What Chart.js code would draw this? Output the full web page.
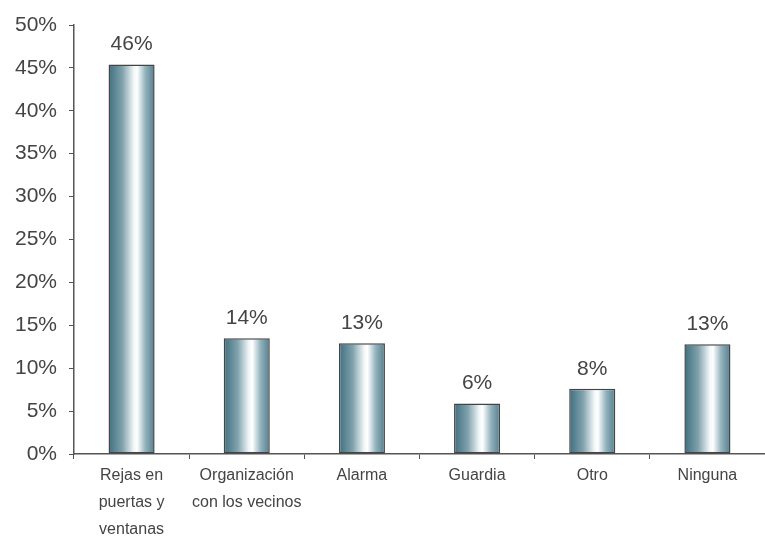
<!DOCTYPE html>
<html lang="es">
<head>
  <meta charset="UTF-8" />
  <title>Medidas de seguridad</title>
  <script src="https://cdn.jsdelivr.net/npm/chart.js"></script>
  <style>
    html, body {
      margin: 0;
      padding: 0;
      background: #ffffff;
    }
    .chart-box {
      width: 765px;
      height: 538px;
    }
  </style>
</head>
<body>
  <div class="chart-box"><canvas id="chart"></canvas></div>

  <script>
    const categories = [
      ['Rejas en', 'puertas y', 'ventanas'],
      ['Organización', 'con los vecinos'],
      'Alarma',
      'Guardia',
      'Otro',
      'Ninguna'
    ];
    const values = [45.4, 13.5, 12.9, 5.9, 7.6, 12.8];
    const valueLabels = ['46%', '14%', '13%', '6%', '8%', '13%'];
    const yTicks = [0, 5, 10, 15, 20, 25, 30, 35, 40, 45, 50];

    const textColor = '#444444';
    const lineColor = '#555555';

    // horizontal gradient for each bar, built from the scale position
    function barGradient(context) {
      const chart = context.chart;
      const xScale = chart.scales.x;
      if (!xScale || !chart.chartArea) return '#4a7585';
      const center = xScale.getPixelForValue(context.dataIndex);
      const half = (xScale.width / categories.length) * 0.4 / 2;
      const g = chart.ctx.createLinearGradient(center - half, 0, center + half, 0);
      g.addColorStop(0, '#3f6e7f');
      g.addColorStop(0.3, '#80a2ad');
      g.addColorStop(0.55, '#f3f7f7');
      g.addColorStop(0.62, '#ffffff');
      g.addColorStop(0.8, '#92b2bc');
      g.addColorStop(1, '#537e8e');
      return g;
    }

    const valueLabelPlugin = {
      id: 'valueLabels',
      afterDatasetsDraw(chart) {
        const ctx = chart.ctx;
        const meta = chart.getDatasetMeta(0);
        ctx.save();
        ctx.font = '21px "Liberation Sans", Arial, sans-serif';
        ctx.fillStyle = textColor;
        ctx.textAlign = 'center';
        ctx.textBaseline = 'alphabetic';
        meta.data.forEach((bar, i) => {
          ctx.fillText(valueLabels[i], bar.x, bar.y - 14);
        });
        ctx.restore();
      }
    };

    new Chart(document.getElementById('chart'), {
      type: 'bar',
      data: {
        labels: categories,
        datasets: [{
          data: values,
          backgroundColor: barGradient,
          borderColor: '#444444',
          borderWidth: 1.5,
          borderSkipped: false,
          barPercentage: 0.4,
          categoryPercentage: 1
        }]
      },
      options: {
        responsive: true,
        maintainAspectRatio: false,
        animation: false,
        layout: { padding: { top: 25, right: 0, left: 0, bottom: 0 } },
        plugins: {
          legend: { display: false },
          tooltip: { enabled: false }
        },
        scales: {
          x: {
            offset: true,
            grid: {
              offset: true,
              drawOnChartArea: false,
              drawTicks: true,
              tickLength: 5,
              color: lineColor
            },
            border: { color: lineColor, width: 1.5 },
            ticks: {
              color: textColor,
              maxRotation: 0,
              autoSkip: false,
              padding: 3,
              font: { family: '"Liberation Sans Narrow", "Liberation Sans", Arial, sans-serif', size: 16, lineHeight: 1.7 }
            },
            afterFit(scale) { scale.height = 84; }
          },
          y: {
            min: 0,
            max: 50,
            afterBuildTicks(scale) {
              scale.ticks = yTicks.map(v => ({ value: v }));
            },
            grid: {
              drawOnChartArea: false,
              drawTicks: true,
              tickLength: 5,
              color: lineColor
            },
            border: { color: lineColor, width: 1.5 },
            ticks: {
              color: textColor,
              padding: 12,
              font: { family: '"Liberation Sans", Arial, sans-serif', size: 21 },
              callback: v => v + '%'
            },
            afterFit(scale) { scale.width = 74; }
          }
        }
      },
      plugins: [valueLabelPlugin]
    });
  </script>
</body>
</html>
